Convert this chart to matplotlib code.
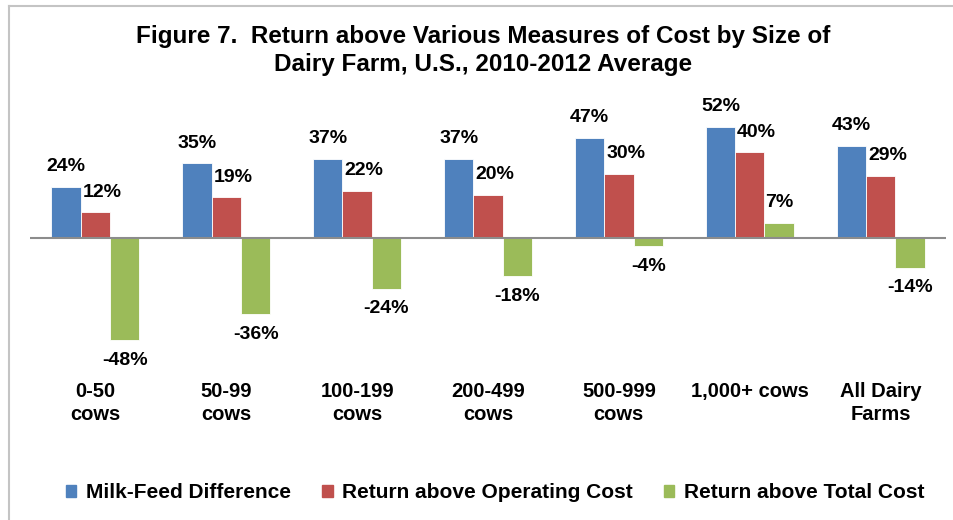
import matplotlib
matplotlib.use("Agg")
import matplotlib.pyplot as plt
from matplotlib.lines import Line2D
import numpy as np

categories = ["0-50\ncows", "50-99\ncows", "100-199\ncows", "200-499\ncows",
              "500-999\ncows", "1,000+ cows", "All Dairy\nFarms"]
series_names = ["Milk-Feed Difference", "Return above Operating Cost", "Return above Total Cost"]
milk_feed = [24, 35, 37, 37, 47, 52, 43]
ret_operating = [12, 19, 22, 20, 30, 40, 29]
ret_total = [-48, -36, -24, -18, -4, 7, -14]
colors = ["#4F81BD", "#C0504D", "#9BBB59"]

plt.rcParams['font.family'] = ['Liberation Sans', 'DejaVu Sans']
plt.rcParams['font.weight'] = 'bold'

W, H = 954, 520
fig = plt.figure(figsize=(W / 100, H / 100), dpi=100)
ax_top, ax_bot = 100, 378
ax = fig.add_axes([30 / W, 1 - ax_bot / H, (946 - 30) / W, (ax_bot - ax_top) / H])

x = np.arange(len(categories))
bw = 0.224
label_dx = [0, 5, 0]
for i, (vals, c) in enumerate(zip([milk_feed, ret_operating, ret_total], colors)):
    b = ax.bar(x + (i - 1) * bw, vals, bw, color=c, edgecolor='white', linewidth=0.6,
               label=series_names[i], zorder=2)
    for rect, v in zip(b, vals):
        cx = rect.get_x() + rect.get_width() / 2
        dy = 14.5 if v >= 0 else -14.5
        ax.annotate(f"{v}%", (cx, v), xytext=(label_dx[i], dy), textcoords='offset points',
                    ha='center', va='center', fontsize=14, fontweight='bold')

px_per = 2.13
zero_px = 237.7
ax.set_ylim(-(ax_bot - zero_px) / px_per, (zero_px - ax_top) / px_per)
ax.set_xlim(-0.5, len(categories) - 0.5)
ax.axhline(0, color='#8c8c8c', lw=1.5, zorder=3)
for s in ax.spines.values():
    s.set_visible(False)
ax.set_yticks([])
ax.set_xticks(x)
ax.set_xticklabels(categories, fontsize=14.5, fontweight='bold', linespacing=1.25)
ax.tick_params(axis='x', length=0, pad=3)

fig.text(0.506, 1 - 25 / H,
         "Figure 7.  Return above Various Measures of Cost by Size of\nDairy Farm, U.S., 2010-2012 Average",
         ha='center', va='top', fontsize=17.5, fontweight='bold', linespacing=1.3)

handles = [plt.Rectangle((0, 0), 1, 1, color=c) for c in colors]
fig.legend(handles, series_names, loc='center', bbox_to_anchor=(0.519, 1 - 493 / H), ncol=3,
           frameon=False, handlelength=0.5, handleheight=0.5,
           handletextpad=0.45, columnspacing=1.5, prop={'weight': 'bold', 'size': 15})

fig.add_artist(Line2D([9 / W, 1], [1 - 6 / H, 1 - 6 / H], color='#c4c4c4', lw=1.5,
                      transform=fig.transFigure))
fig.add_artist(Line2D([9 / W, 9 / W], [0, 1 - 6 / H], color='#c4c4c4', lw=1.5,
                      transform=fig.transFigure))

fig.savefig("out.png", dpi=100)
